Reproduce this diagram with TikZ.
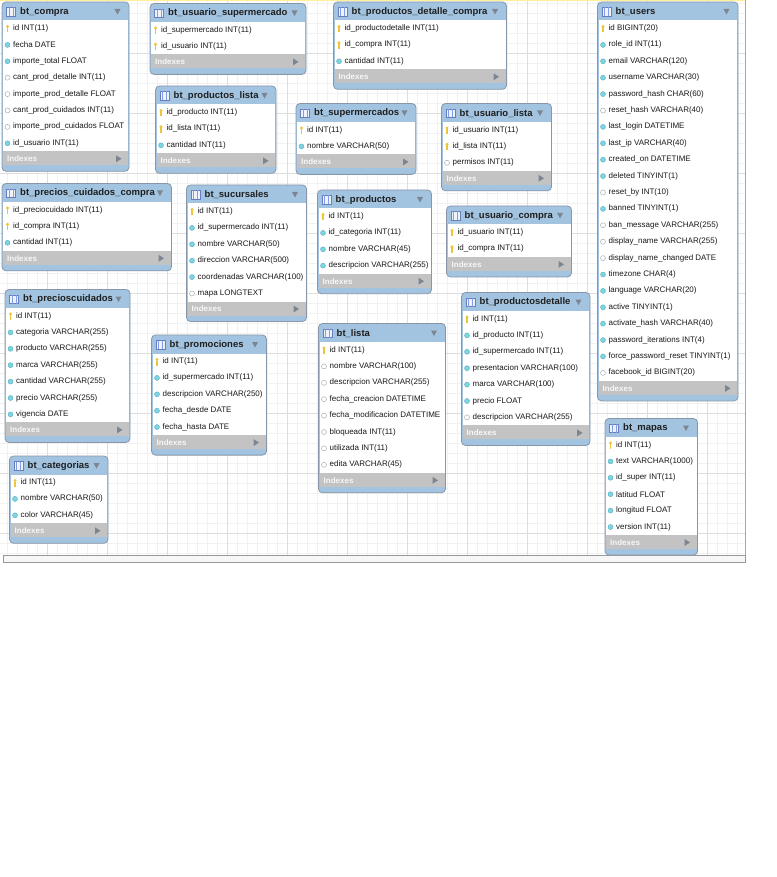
\documentclass[tikz,border=0pt]{standalone}
\usepackage{fontspec}
\setmainfont{Liberation Sans}
\definecolor{hdrblue}{HTML}{A3C4E0}
\definecolor{frameline}{HTML}{8797A8}
\definecolor{idxgrey}{HTML}{C3C3C3}
\definecolor{gridminor}{HTML}{F1F1F1}
\definecolor{gridmajor}{HTML}{DEDEDE}
\definecolor{keygold}{HTML}{EEC43A}
\definecolor{colcyan}{HTML}{7ED4E0}
\definecolor{colcyanrim}{HTML}{55AFC0}
\definecolor{hollowrim}{HTML}{A8B0B8}
\definecolor{markgrey}{HTML}{7C8590}
\tikzset{
  tframe/.style={fill=hdrblue, draw=frameline, line width=0.8pt, rounded corners=4pt},
  ttitle/.style={font=\fontsize{9.5}{11}\selectfont\bfseries, text=black!88, inner sep=0pt, anchor=west},
  tfield/.style={font=\fontsize{8}{9}\selectfont, text=black!90, inner sep=0pt, anchor=west},
  tindex/.style={font=\fontsize{8}{9}\selectfont\bfseries, text=white!94!gray, inner sep=0pt, anchor=west},
  gridthin/.style={draw=gridminor, line width=0.6pt},
  gridthick/.style={draw=gridmajor, line width=0.6pt},
}
% column markers: primary key, not-null column, nullable column
\newcommand\iconK[2]{%
  \fill[keygold] (#1,#2-2) circle (1.7);
  \fill[keygold] (#1-0.7,#2-1) rectangle (#1+0.7,#2+4);}
\newcommand\iconF[2]{%
  \draw[fill=colcyan, draw=colcyanrim, line width=0.4pt] (#1,#2) circle (2.5);}
\newcommand\iconH[2]{%
  \draw[fill=white, draw=hollowrim, line width=0.5pt] (#1,#2) circle (2.5);}
% table figure: name, title, left, right, top, number of rows, rows
\newcommand\dbtable[7]{%
  \pgfmathsetmacro\yL{#5+26.5+16.4*(#6-1)}%
  \pgfmathsetmacro\yB{\yL+28}%
  \draw[tframe] (#3,#5) rectangle (#4,\yB);
  \fill[white] (#3+1,#5+18.5) rectangle (#4-1,\yL+8);
  \fill[idxgrey] (#3+1,\yL+8) rectangle (#4-1,\yL+22);
  % table icon
  \draw[fill=white!80!hdrblue, draw=black!20!hdrblue!80!blue, line width=0.6pt] (#3+4.5,#5+5.5) rectangle (#3+13.5,#5+14);
  \draw[draw=hdrblue!80!blue, line width=0.5pt] (#3+7,#5+5.5) -- (#3+7,#5+14) (#3+11,#5+5.5) -- (#3+11,#5+14);
  \node[ttitle] (#1) at (#3+18,#5+10) {#2};
  \fill[markgrey] (#4-14.5,#5+7) -- (#4-8.5,#5+7) -- (#4-11.5,#5+12.5) -- cycle;
  \foreach \kind/\txt [count=\i from 0] in {#7} {
    \pgfmathsetmacro\ry{#5+26.5+16.4*\i}
    \csname icon\kind\endcsname{#3+5.5}{\ry}
    \node[tfield] (#1-\i) at (#3+11,\ry) {\txt};
  }
  \node[tindex] (#1-idx) at (#3+5,\yL+15.5) {Indexes};
  \fill[markgrey] (#4-13,\yL+12) -- (#4-13,\yL+19) -- (#4-7.5,\yL+15.5) -- cycle;
}
\begin{document}
\catcode`\_=12
\begin{tikzpicture}[x=1pt,y=-1pt]
\useasboundingbox (0,0) rectangle (776,877);
\fill[white] (0,0) rectangle (776,877);
% canvas grid
\foreach \gx in {7,17,...,737} \draw[gridthin] (\gx,0) -- (\gx,555);
\foreach \gy in {3,13,...,553} \draw[gridthin] (0,\gy) -- (745,\gy);
\foreach \gx in {47,107,...,707} \draw[gridthick] (\gx,0) -- (\gx,555);
\foreach \gy in {53,113,...,533} \draw[gridthick] (0,\gy) -- (745,\gy);
\draw[draw=black!35, line width=0.6pt] (745,0) -- (745,555);
\fill[orange!30!yellow!40] (0,0) rectangle (745,1.2);
% horizontal scroll bar
\draw[draw=black!40, fill=black!3, line width=0.6pt] (3,555.5) rectangle (745,562);

\dbtable{compra}{bt_compra}{2}{129}{2}{8}{K/id INT(11), F/fecha DATE, F/importe_total FLOAT, H/cant_prod_detalle INT(11), H/importe_prod_detalle FLOAT, H/cant_prod_cuidados INT(11), H/importe_prod_cuidados FLOAT, F/id_usuario INT(11)}
\dbtable{ususuper}{bt_usuario_supermercado}{150}{306}{3.5}{2}{K/id_supermercado INT(11), K/id_usuario INT(11)}
\dbtable{pdc}{bt_productos_detalle_compra}{333.5}{506.5}{2}{3}{K/id_productodetalle INT(11), K/id_compra INT(11), F/cantidad INT(11)}
\dbtable{users}{bt_users}{597.5}{738}{2}{22}{K/id BIGINT(20), F/role_id INT(11), F/email VARCHAR(120), F/username VARCHAR(30), F/password_hash CHAR(60), H/reset_hash VARCHAR(40), F/last_login DATETIME, F/last_ip VARCHAR(40), F/created_on DATETIME, F/deleted TINYINT(1), H/reset_by INT(10), F/banned TINYINT(1), H/ban_message VARCHAR(255), H/display_name VARCHAR(255), H/display_name_changed DATE, F/timezone CHAR(4), F/language VARCHAR(20), F/active TINYINT(1), F/activate_hash VARCHAR(40), F/password_iterations INT(4), F/force_password_reset TINYINT(1), H/facebook_id BIGINT(20)}
\dbtable{plista}{bt_productos_lista}{155.5}{276}{86}{3}{K/id_producto INT(11), K/id_lista INT(11), F/cantidad INT(11)}
\dbtable{super}{bt_supermercados}{296}{416}{103.5}{2}{K/id INT(11), F/nombre VARCHAR(50)}
\dbtable{ulista}{bt_usuario_lista}{441.5}{551.5}{103.5}{3}{K/id_usuario INT(11), K/id_lista INT(11), H/permisos INT(11)}
\dbtable{pcc}{bt_precios_cuidados_compra}{2}{171.5}{183.5}{3}{K/id_preciocuidado INT(11), K/id_compra INT(11), F/cantidad INT(11)}
\dbtable{sucursales}{bt_sucursales}{186.5}{306.5}{185}{6}{K/id INT(11), F/id_supermercado INT(11), F/nombre VARCHAR(50), F/direccion VARCHAR(500), F/coordenadas VARCHAR(100), H/mapa LONGTEXT}
\dbtable{productos}{bt_productos}{317.5}{431.5}{190}{4}{K/id INT(11), F/id_categoria INT(11), F/nombre VARCHAR(45), F/descripcion VARCHAR(255)}
\dbtable{ucompra}{bt_usuario_compra}{446.5}{571.5}{206}{2}{K/id_usuario INT(11), K/id_compra INT(11)}
\dbtable{pcuidados}{bt_precioscuidados}{5}{130}{289.5}{7}{K/id INT(11), F/categoria VARCHAR(255), F/producto VARCHAR(255), F/marca VARCHAR(255), F/cantidad VARCHAR(255), F/precio VARCHAR(255), F/vigencia DATE}
\dbtable{pdetalle}{bt_productosdetalle}{461.5}{590}{292.5}{7}{K/id INT(11), F/id_producto INT(11), F/id_supermercado INT(11), F/presentacion VARCHAR(100), F/marca VARCHAR(100), F/precio FLOAT, H/descripcion VARCHAR(255)}
\dbtable{promociones}{bt_promociones}{151.5}{266.5}{335}{5}{K/id INT(11), F/id_supermercado INT(11), F/descripcion VARCHAR(250), F/fecha_desde DATE, F/fecha_hasta DATE}
\dbtable{lista}{bt_lista}{318.5}{445.5}{323.5}{8}{K/id INT(11), H/nombre VARCHAR(100), H/descripcion VARCHAR(255), H/fecha_creacion DATETIME, H/fecha_modificacion DATETIME, H/bloqueada INT(11), H/utilizada INT(11), H/edita VARCHAR(45)}
\dbtable{categorias}{bt_categorias}{9.5}{108}{456}{3}{K/id INT(11), F/nombre VARCHAR(50), F/color VARCHAR(45)}
\dbtable{mapas}{bt_mapas}{605}{697.5}{418.5}{6}{K/id INT(11), F/text VARCHAR(1000), F/id_super INT(11), F/latitud FLOAT, F/longitud FLOAT, F/version INT(11)}
\end{tikzpicture}
\end{document}
